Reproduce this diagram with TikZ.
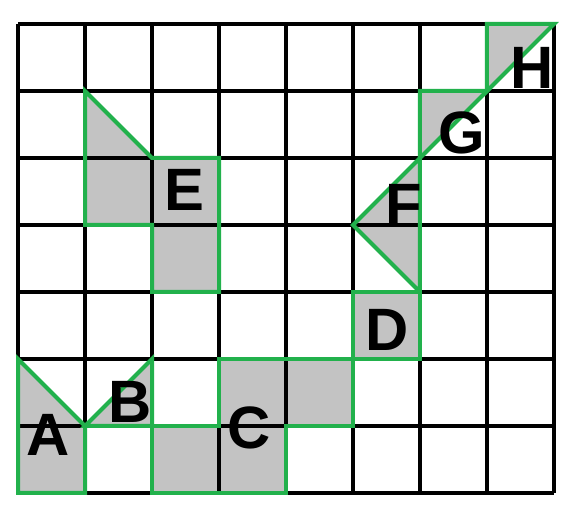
\documentclass[tikz,border=0pt]{standalone}
\usepackage{fontspec}
\setmainfont{Liberation Sans}
\usepackage{tikz}
\usepackage{xcolor}
\definecolor{piece-green}{HTML}{22B14C}
\definecolor{piece-gray}{HTML}{C3C3C3}
\tikzset{
    grid-line/.style = {draw=black, line width=1.7pt},
    piece/.style = {draw=piece-green, fill=piece-gray, line width=1.7pt, line join=miter},
    piece-edge/.style = {draw=piece-green, line width=1.7pt, line join=miter},
    piece-label/.style = {inner sep=0pt, font=\fontsize{25.4}{26}\selectfont\bfseries},
}

\begin{document}
\begin{tikzpicture}
\useasboundingbox (-0.269,-0.433) rectangle (8.299,7.358);
% gray pieces
\fill[piece-gray] (0,2) -- (1,1) -- (1,0) -- (0,0) -- cycle;
\fill[piece-gray] (1,1) -- (2,2) -- (2,1) -- cycle;
\fill[piece-gray] (2,0) -- (4,0) -- (4,1) -- (5,1) -- (5,2) -- (3,2) -- (3,1) -- (2,1) -- cycle;
\fill[piece-gray] (5,2) rectangle (6,3);
\fill[piece-gray] (1,6) -- (2,5) -- (3,5) -- (3,3) -- (2,3) -- (2,4) -- (1,4) -- cycle;
\fill[piece-gray] (5,4) -- (6,5) -- (6,3) -- cycle;
\fill[piece-gray] (6,5) -- (6,6) -- (7,6) -- cycle;
\fill[piece-gray] (7,6) -- (7,7) -- (8,7) -- cycle;
% the board
\draw[grid-line] (0,0) grid (8,7);
% green outlines
\draw[piece-edge] (0,2) -- (1,1) -- (1,0) -- (0,0) -- cycle;
\draw[piece-edge] (1,1) -- (2,2) -- (2,1) -- cycle;
\draw[piece-edge] (2,0) -- (4,0) -- (4,1) -- (5,1) -- (5,2) -- (3,2) -- (3,1) -- (2,1) -- cycle;
\draw[piece-edge] (5,2) rectangle (6,3);
\draw[piece-edge] (1,6) -- (2,5) -- (3,5) -- (3,3) -- (2,3) -- (2,4) -- (1,4) -- cycle;
\draw[piece-edge] (5,4) -- (6,5) -- (6,3) -- cycle;
\draw[piece-edge] (6,5) -- (6,6) -- (7,6) -- cycle;
\draw[piece-edge] (7,6) -- (7,7) -- (8,7) -- cycle;
% labels
\node[piece-label] (label-a) at (0.45,0.87) {A};
\node[piece-label] (label-b) at (1.67,1.36) {B};
\node[piece-label] (label-c) at (3.45,0.97) {C};
\node[piece-label] (label-d) at (5.51,2.43) {D};
\node[piece-label] (label-e) at (2.49,4.52) {E};
\node[piece-label] (label-f) at (5.76,4.30) {F};
\node[piece-label] (label-g) at (6.63,5.37) {G};
\node[piece-label] (label-h) at (7.67,6.34) {H};
\end{tikzpicture}
\end{document}
